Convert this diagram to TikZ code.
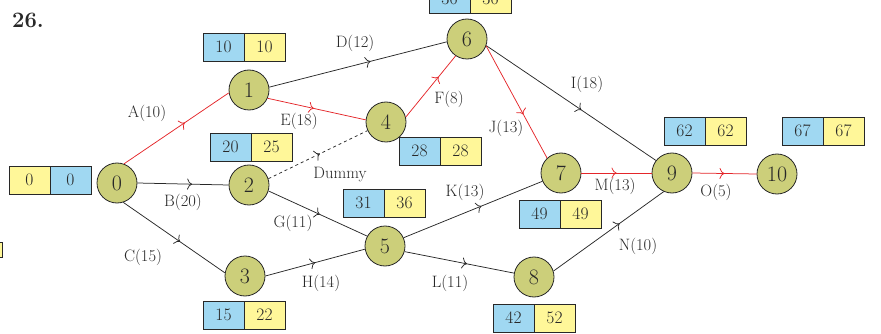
\documentclass[tikz,border=0pt]{standalone}
\usepackage{fontspec}
\usetikzlibrary{arrows.meta,decorations.markings}
\definecolor{nodefill}{RGB}{204,207,122}
\definecolor{cellblue}{RGB}{160,216,242}
\definecolor{cellyellow}{RGB}{255,247,153}
\definecolor{critred}{RGB}{228,38,42}
\definecolor{linegray}{RGB}{40,40,40}
\tikzset{
 evt/.style={circle, draw=linegray, fill=nodefill, line width=0.8pt, minimum size=40pt, inner sep=0pt, text=linegray, font=\fontsize{22}{24}\selectfont},
 bcell/.style={draw=linegray, fill=cellblue, line width=0.8pt, minimum width=41pt, minimum height=28pt, inner sep=0pt, text=linegray, font=\fontsize{17.5}{19}\selectfont},
 ycell/.style={bcell, fill=cellyellow},
 lbl/.style={font=\fontsize{16.5}{18}\selectfont, inner sep=0pt, text=linegray},
 act/.style={color=linegray, line width=0.75pt},
 crit/.style={color=critred, line width=0.75pt},
 dum/.style={act, dashed},
 midarrow/.style={postaction={decorate, decoration={markings, mark=at position #1 with {\arrow{To[length=5pt,width=11pt]}}}}},
}
\newcommand{\bybox}[5]{% name, left, top, blue value, yellow value
 \node[bcell] (#1a) at (#2+20.5,#3+14) {#4};
 \node[ycell] (#1b) at (#2+61.5,#3+14) {#5};}
\begin{document}
\begin{tikzpicture}[x=1pt,y=-1pt]
\useasboundingbox (0,0) rectangle (881,334);
\clip (0,0) rectangle (881,334);
\node[font=\bfseries\fontsize{22}{24}\selectfont, inner sep=0pt, text=linegray] (title) at (28,20) {26.};
% events
\node[evt] (n0) at (117,183) {0};
\node[evt] (n1) at (249,90) {1};
\node[evt] (n2) at (249,185) {2};
\node[evt] (n3) at (245,276) {3};
\node[evt] (n4) at (386,122) {4};
\node[evt] (n5) at (385,246) {5};
\node[evt] (n6) at (467,39) {6};
\node[evt] (n7) at (561,173) {7};
\node[evt] (n8) at (534,277) {8};
\node[evt] (n9) at (672,173) {9};
\node[evt] (n10) at (777,174) {10};
% time boxes
\node[ycell] (b0a) at (29.5,180) {0};
\node[bcell] (b0b) at (70.5,180) {0};
\bybox{b1}{203}{33}{10}{10}
\bybox{b2}{210}{133}{20}{25}
\bybox{b3}{203}{301}{15}{22}
\bybox{b4}{399}{137}{28}{28}
\bybox{b5}{343}{189}{31}{36}
\bybox{b6}{429}{-15}{36}{36}
\bybox{b7}{519}{200}{49}{49}
\bybox{b8}{493}{304}{42}{52}
\bybox{b9}{664}{117}{62}{62}
\bybox{b10}{782}{117}{67}{67}
\node[ycell, minimum width=14pt, minimum height=15pt] (frag) at (-5,250) {};
% activities
\draw[crit, midarrow=0.58] (n0.70) -- (n1.188);
\draw[act, midarrow=0.6] (n0.0) -- (n2.180);
\draw[act, midarrow=0.56] (n0.-72) -- (n3.171);
\draw[act, midarrow=0.57] (n1.8) -- (n6.188);
\draw[crit, midarrow=0.47] (n1.336) -- (n4.174);
\draw[crit, midarrow=0.66] (n4.14) -- (n6.236);
\draw[dum, midarrow=0.52] (n2.18) -- (n4.205);
\draw[act, midarrow=0.52] (n2.-17) -- (n5.151);
\draw[act, midarrow=0.5] (n3.0) -- (n5.189);
\draw[act, midarrow=0.56] (n6.-19) -- (n9.142);
\draw[crit, midarrow=0.61] (n6.-20) -- (n7.133);
\draw[act, midarrow=0.56] (n5.24) -- (n7.204);
\draw[act, midarrow=0.57] (n5.-16) -- (n8.169);
\draw[crit, midarrow=0.5] (n7.0) -- (n9.180);
\draw[act, midarrow=0.6] (n8.17) -- (n9.246);
\draw[crit, midarrow=0.5] (n9.0) -- (n10.180);
% labels
\node[lbl] (lA) at (147,113) {A(10)};
\node[lbl] (lB) at (183,202) {B(20)};
\node[lbl] (lC) at (143,257) {C(15)};
\node[lbl] (lD) at (355,43) {D(12)};
\node[lbl] (lE) at (299,121) {E(18)};
\node[lbl] (lF) at (449,99) {F(8)};
\node[lbl] (lDum) at (340,175) {Dummy};
\node[lbl] (lG) at (293,223) {G(11)};
\node[lbl] (lH) at (321,283) {H(14)};
\node[lbl] (lI) at (587,84) {I(18)};
\node[lbl] (lJ) at (506,128) {J(13)};
\node[lbl] (lK) at (465,192) {K(13)};
\node[lbl] (lL) at (450,283) {L(11)};
\node[lbl] (lM) at (615,186) {M(13)};
\node[lbl] (lN) at (638,246) {N(10)};
\node[lbl] (lO) at (716,192) {O(5)};
\end{tikzpicture}
\end{document}
